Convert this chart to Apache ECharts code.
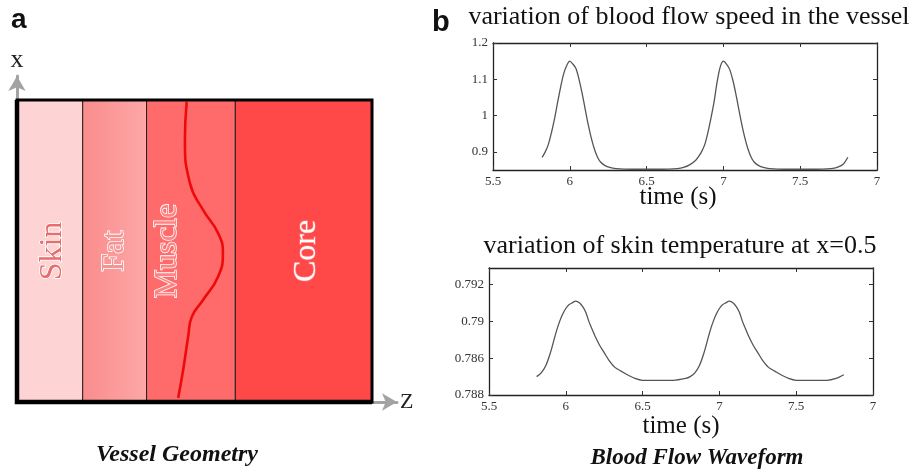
<!DOCTYPE html>
<html>
<head>
<meta charset="utf-8">
<script src="https://cdn.jsdelivr.net/npm/echarts@6/dist/echarts.min.js"></script>
<style>
  html, body { margin: 0; padding: 0; background: #fff; }
  #chart { width: 913px; height: 472px; }
</style>
</head>
<body>
<div id="chart"></div>
<script>
// ---- Panel a: tissue layers (z from 0 to 1) ----
const layerNames = ['Skin', 'Fat', 'Muscle', 'Core'];
const layerStart = [0, 0.185, 0.365, 0.615];
const layerEnd = [0.185, 0.365, 0.615, 1.0];
const layerLabelZ = [0.10, 0.276, 0.425, 0.817];

// vessel centre line inside the muscle layer: [z, x]
const vesselZ = [0.454, 0.468, 0.482, 0.492, 0.524, 0.566, 0.580, 0.566, 0.524, 0.487, 0.473, 0.478];
const vesselX = [0.013, 0.106, 0.215, 0.281, 0.338, 0.414, 0.493, 0.560, 0.636, 0.725, 0.868, 0.994];

// ---- Panel b, top: blood flow speed ----
const speedTime = [5.82, 5.84, 5.86, 5.88, 5.90, 5.92, 5.94, 5.96, 5.98, 6.00, 6.02, 6.04, 6.06, 6.08, 6.10,
  6.12, 6.14, 6.16, 6.18, 6.20, 6.23, 6.26, 6.30, 6.40, 6.50, 6.60, 6.70, 6.74, 6.78, 6.82, 6.84, 6.86, 6.88,
  6.90, 6.92, 6.94, 6.96, 6.98, 7.00, 7.02, 7.04, 7.06, 7.08, 7.10, 7.12, 7.14, 7.16, 7.18, 7.20, 7.23, 7.26,
  7.30, 7.40, 7.50, 7.60, 7.70, 7.74, 7.78, 7.81];
const speedValue = [0.885, 0.900, 0.920, 0.952, 0.990, 1.035, 1.078, 1.115, 1.138, 1.150, 1.142, 1.130, 1.100, 1.062, 1.018,
  0.975, 0.938, 0.908, 0.886, 0.872, 0.862, 0.857, 0.854, 0.852, 0.852, 0.852, 0.854, 0.857, 0.864, 0.877, 0.888, 0.902, 0.922,
  0.955, 0.995, 1.040, 1.095, 1.135, 1.150, 1.142, 1.128, 1.100, 1.062, 1.018, 0.975, 0.938, 0.908, 0.886, 0.872, 0.862, 0.857,
  0.854, 0.852, 0.852, 0.852, 0.854, 0.857, 0.866, 0.885];

// ---- Panel b, bottom: skin temperature at x = 0.5 ----
const tempTime = [5.81, 5.84, 5.87, 5.90, 5.92, 5.94, 5.96, 5.98, 6.00, 6.02, 6.04, 6.065, 6.09, 6.11, 6.13,
  6.15, 6.17, 6.19, 6.22, 6.25, 6.28, 6.32, 6.36, 6.40, 6.45, 6.50, 6.60, 6.70, 6.78, 6.81, 6.84, 6.87, 6.90,
  6.92, 6.94, 6.96, 6.98, 7.00, 7.02, 7.04, 7.065, 7.09, 7.11, 7.13, 7.15, 7.17, 7.19, 7.22, 7.25, 7.28, 7.32,
  7.36, 7.40, 7.45, 7.50, 7.60, 7.70, 7.76, 7.81];
const tempValue = [0.7870, 0.7872, 0.7876, 0.7883, 0.7889, 0.7895, 0.7900, 0.7904, 0.7907, 0.7909, 0.7910, 0.7911, 0.7910, 0.7908, 0.7905,
  0.7900, 0.7896, 0.7892, 0.7887, 0.7883, 0.7879, 0.7875, 0.7873, 0.7871, 0.7869, 0.7868, 0.7868, 0.7868, 0.7869, 0.7870, 0.7872, 0.7876, 0.7883,
  0.7889, 0.7895, 0.7900, 0.7904, 0.7907, 0.7909, 0.7910, 0.7911, 0.7910, 0.7908, 0.7905, 0.7900, 0.7896, 0.7892, 0.7887, 0.7883, 0.7879, 0.7875,
  0.7873, 0.7871, 0.7869, 0.7868, 0.7868, 0.7868, 0.7869, 0.7871];

// ---- tick labels ----
const timeTicks = [5.5, 6, 6.5, 7, 7.5, 8];
const timeTickLabels = ['5.5', '6', '6.5', '7', '7.5', '7'];
const speedTicks = [0.9, 1.0, 1.1, 1.2];
const speedTickLabels = ['0.9', '1', '1.1', '1.2'];
const tempTicks = [0.786, 0.788, 0.790, 0.792];
const tempTickLabels = ['0.788', '0.786', '0.79', '0.792'];

// ---- styles ----
const SERIF = '"Liberation Serif", "Times New Roman", serif';
const layerFill = [
  '#fdd3d3',
  new echarts.graphic.LinearGradient(0, 0, 1, 0, [{ offset: 0, color: '#fa8c8c' }, { offset: 1, color: '#fda7a7' }]),
  '#ff6b6b',
  '#ff4848'
];
const layerTextFill = ['#e86e6e', '#f59494', '#ff8383', '#ffffff'];
const layerTextStroke = ['#ffffff', '#ffffff', '#ffffff', '#ff7070'];

function labelFrom(ticks, labels) {
  return function (v) {
    for (let i = 0; i < ticks.length; i++) {
      if (Math.abs(ticks[i] - v) < 1e-9) return labels[i];
    }
    return '';
  };
}

const frameLine = { show: true, lineStyle: { color: '#222', width: 1.3 } };
const innerTick = (vals) => ({ show: true, inside: true, length: 4, customValues: vals, lineStyle: { color: '#333', width: 1 } });
const tickFont = { fontFamily: SERIF, fontSize: 13, color: '#333' };

function timeAxis(grid, pos, showLabels) {
  return {
    type: 'value', gridIndex: grid, position: pos, min: 5.5, max: 8,
    axisLine: frameLine, splitLine: { show: false },
    axisTick: innerTick(timeTicks),
    axisLabel: showLabels
      ? Object.assign({ show: true, margin: 5, customValues: timeTicks, formatter: labelFrom(timeTicks, timeTickLabels) }, tickFont)
      : { show: false }
  };
}
function valueAxis(grid, pos, min, max, ticks, labels, showLabels) {
  return {
    type: 'value', gridIndex: grid, position: pos, min: min, max: max, scale: true,
    axisLine: frameLine, splitLine: { show: false },
    axisTick: innerTick(ticks),
    axisLabel: showLabels
      ? Object.assign({ show: true, margin: 5, customValues: ticks, formatter: labelFrom(ticks, labels) }, tickFont)
      : { show: false }
  };
}

const layerData = layerNames.map((n, i) => [layerStart[i], layerEnd[i], layerLabelZ[i], i]);
const vesselData = vesselZ.map((z, i) => [z, vesselX[i]]);
const speedData = speedTime.map((t, i) => [t, speedValue[i]]);
const tempData = tempTime.map((t, i) => [t, tempValue[i]]);

const arrowAxisLine = {
  show: true, symbol: ['none', 'arrow'], symbolSize: [13, 15],
  lineStyle: { color: '#a3a3a3', width: 3 }
};

const option = {
  animation: false,
  backgroundColor: '#ffffff',
  grid: [
    { left: 17, top: 76, width: 380, height: 326 },
    { left: 493, top: 43, width: 384, height: 127 },
    { left: 489, top: 268, width: 384, height: 127 }
  ],
  xAxis: [
    {
      type: 'value', gridIndex: 0, min: 0, max: 1.0704,
      axisLine: arrowAxisLine, axisTick: { show: false }, axisLabel: { show: false }, splitLine: { show: false },
      name: 'Z', nameLocation: 'end', nameGap: 3,
      nameTextStyle: { fontFamily: SERIF, fontSize: 22, color: '#222' }
    },
    timeAxis(1, 'bottom', true),
    timeAxis(1, 'top', false),
    timeAxis(2, 'bottom', true),
    timeAxis(2, 'top', false)
  ],
  yAxis: [
    {
      type: 'value', gridIndex: 0, min: 0, max: 1.0795,
      axisLine: arrowAxisLine, axisTick: { show: false }, axisLabel: { show: false }, splitLine: { show: false },
      name: 'x', nameLocation: 'end', nameGap: 3,
      nameTextStyle: { fontFamily: SERIF, fontSize: 26, color: '#222', align: 'center' }
    },
    valueAxis(1, 'left', 0.85, 1.2, speedTicks, speedTickLabels, true),
    valueAxis(1, 'right', 0.85, 1.2, speedTicks, speedTickLabels, false),
    valueAxis(2, 'left', 0.786, 0.7929, tempTicks, tempTickLabels, true),
    valueAxis(2, 'right', 0.786, 0.7929, tempTicks, tempTickLabels, false)
  ],
  series: [
    {
      // tissue layers with their names
      type: 'custom', xAxisIndex: 0, yAxisIndex: 0, z: 2,
      data: layerData,
      renderItem: function (params, api) {
        const i = api.value(3);
        const p0 = api.coord([api.value(0), 1]);
        const p1 = api.coord([api.value(1), 0]);
        const c = api.coord([api.value(2), 0.5]);
        return {
          type: 'group',
          children: [
            {
              type: 'rect',
              shape: { x: p0[0], y: p0[1], width: p1[0] - p0[0], height: p1[1] - p0[1] },
              style: { fill: layerFill[i], stroke: '#222', lineWidth: 1 }
            },
            {
              type: 'text', x: c[0], y: c[1], rotation: Math.PI / 2, z2: 10,
              style: {
                text: layerNames[i], font: '32px ' + SERIF,
                fill: layerTextFill[i], stroke: layerTextStroke[i], lineWidth: 1.6,
                align: 'center', verticalAlign: 'middle'
              }
            }
          ]
        };
      }
    },
    {
      // vessel
      type: 'line', xAxisIndex: 0, yAxisIndex: 0, z: 3,
      data: vesselData, smooth: 0.5, showSymbol: false, symbol: 'none',
      lineStyle: { color: '#ee0a0a', width: 2.6 }
    },
    {
      // outer frame of the domain
      type: 'custom', xAxisIndex: 0, yAxisIndex: 0, z: 4,
      data: [[0, 1]],
      renderItem: function (params, api) {
        const tl = api.coord([0, 1]);
        const br = api.coord([1, 0]);
        return {
          type: 'group',
          children: [
            {
              type: 'rect',
              shape: { x: tl[0], y: tl[1], width: br[0] - tl[0], height: br[1] - tl[1] },
              style: { fill: 'none', stroke: '#000', lineWidth: 3 }
            },
            {
              type: 'polyline',
              shape: { points: [[tl[0], tl[1]], [tl[0], br[1]], [br[0], br[1]]] },
              style: { fill: 'none', stroke: '#000', lineWidth: 4.5 }
            }
          ]
        };
      }
    },
    {
      type: 'line', xAxisIndex: 1, yAxisIndex: 1,
      data: speedData, smooth: 0.3, showSymbol: false, symbol: 'none',
      lineStyle: { color: '#555', width: 1.3 }
    },
    {
      type: 'line', xAxisIndex: 3, yAxisIndex: 3,
      data: tempData, smooth: 0.3, showSymbol: false, symbol: 'none',
      lineStyle: { color: '#555', width: 1.3 }
    }
  ],
  graphic: [
    { type: 'text', x: 11, y: 20, style: { text: 'a', font: 'bold 28px "Liberation Sans", Arial, sans-serif', fill: '#111', align: 'left', verticalAlign: 'middle' } },
    { type: 'text', x: 432, y: 23, style: { text: 'b', font: 'bold 29px "Liberation Sans", Arial, sans-serif', fill: '#111', align: 'left', verticalAlign: 'middle' } },
    { type: 'text', x: 689, y: 17, style: { text: 'variation of blood flow speed in the vessel', font: '26px ' + SERIF, fill: '#111', align: 'center', verticalAlign: 'middle' } },
    { type: 'text', x: 678, y: 197, style: { text: 'time (s)', font: '25px ' + SERIF, fill: '#111', align: 'center', verticalAlign: 'middle' } },
    { type: 'text', x: 680, y: 246, style: { text: 'variation of skin temperature at x=0.5', font: '26px ' + SERIF, fill: '#111', align: 'center', verticalAlign: 'middle' } },
    { type: 'text', x: 681, y: 426, style: { text: 'time (s)', font: '25px ' + SERIF, fill: '#111', align: 'center', verticalAlign: 'middle' } },
    { type: 'text', x: 697, y: 458, style: { text: 'Blood Flow Waveform', font: 'italic bold 23px ' + SERIF, fill: '#111', align: 'center', verticalAlign: 'middle' } },
    { type: 'text', x: 177, y: 455, style: { text: 'Vessel Geometry', font: 'italic bold 24px ' + SERIF, fill: '#111', align: 'center', verticalAlign: 'middle' } }
  ]
};

const chart = echarts.init(document.getElementById('chart'), null, { renderer: 'canvas' });
chart.setOption(option);
</script>
</body>
</html>
